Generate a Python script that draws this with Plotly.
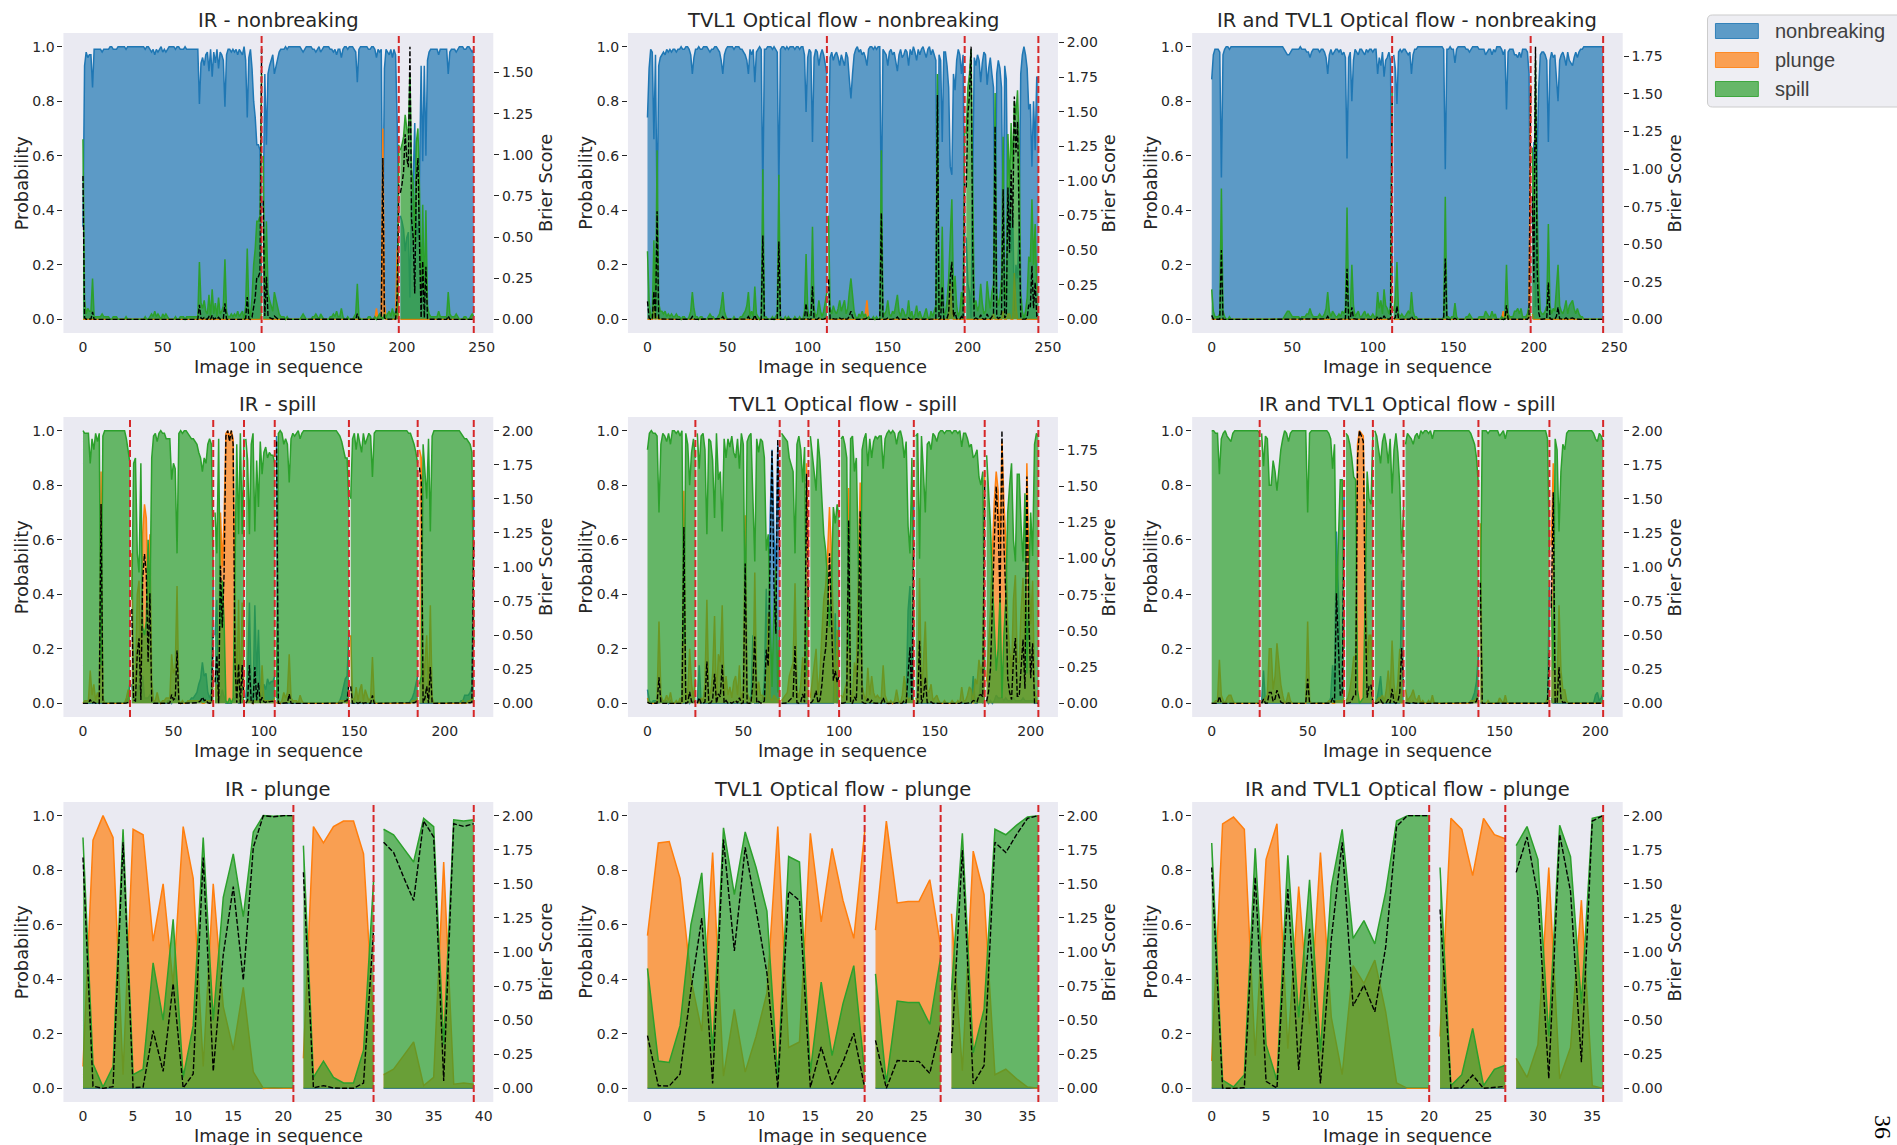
import plotly.graph_objects as go

W, H = 1897, 1145

# ================= DATA (class probabilities in percent) =================
# ---- Row 1: nonbreaking sequences ----
ir_nonbreaking_bounds = [112, 198, 245]
ir_nonbreaking_nb = [
    34, 93, 98, 96, 97, 97, 85, 99, 99, 99,
    99, 99, 98, 99, 99, 99, 99, 100, 100, 99,
    99, 99, 100, 100, 100, 100, 100, 99, 100, 100,
    100, 100, 100, 100, 100, 100, 100, 100, 100, 99,
    100, 100, 99, 98, 99, 97, 99, 98, 99, 100,
    98, 99, 98, 99, 100, 100, 100, 100, 99, 100,
    100, 99, 99, 99, 100, 99, 99, 99, 99, 99,
    99, 99, 99, 79, 94, 96, 93, 97, 98, 91,
    99, 89, 98, 94, 99, 92, 98, 97, 95, 78,
    97, 99, 99, 98, 99, 98, 99, 97, 99, 98,
    97, 100, 95, 74, 96, 99, 92, 80, 74, 64,
    64, 62, 8,
    40, 90, 64, 90, 93, 95, 97,
    90, 93, 96, 98, 99, 99, 99, 100, 99, 100,
    100, 100, 100, 100, 100, 100, 100, 99, 98, 99,
    100, 100, 100, 100, 99, 99, 98, 99, 100, 98,
    99, 100, 100, 100, 100, 99, 99, 98, 99, 97,
    99, 99, 96, 99, 100, 100, 99, 100, 100, 100,
    99, 98, 87, 99, 100, 100, 100, 100, 100, 99,
    99, 100, 100, 99, 96, 99, 98, 99, 30, 92,
    99, 98, 97, 99, 96, 99, 97, 72, 36,
    38, 36, 33, 25, 30, 32, 8, 45, 50, 72, 35,
    30, 52, 93, 58, 93, 60, 95, 98, 99, 99,
    99, 99, 99, 97, 99, 99, 99, 99, 99, 90,
    98, 99, 99, 99, 98, 99, 100, 100, 100, 99,
    99, 100, 100, 99, 98, 99,
]
ir_nonbreaking_sp = [
    66, 7, 2, 4, 3, 3, 15, 1, 1, 1,
    1, 1, 2, 1, 1, 1, 1, 0, 0, 1,
    1, 1, 0, 0, 0, 0, 0, 1, 0, 0,
    0, 0, 0, 0, 0, 0, 0, 0, 0, 1,
    0, 0, 1, 2, 1, 3, 1, 2, 1, 0,
    2, 1, 2, 1, 0, 0, 0, 0, 1, 0,
    0, 1, 1, 1, 0, 1, 1, 1, 1, 1,
    1, 1, 1, 21, 6, 4, 7, 3, 2, 9,
    1, 11, 2, 6, 1, 8, 2, 3, 5, 22,
    3, 1, 1, 2, 1, 2, 1, 3, 1, 2,
    3, 0, 5, 26, 4, 1, 8, 20, 26, 36,
    36, 38, 90,
    60, 10, 36, 10, 7, 5, 3,
    10, 7, 4, 2, 1, 1, 1, 0, 1, 0,
    0, 0, 0, 0, 0, 0, 0, 1, 2, 1,
    0, 0, 0, 0, 1, 1, 2, 1, 0, 2,
    1, 0, 0, 0, 0, 1, 1, 2, 1, 3,
    1, 1, 4, 1, 0, 0, 1, 0, 0, 0,
    1, 2, 13, 1, 0, 0, 0, 0, 0, 1,
    1, 0, 0, 1, 0, 1, 2, 1, 0, 2,
    1, 2, 3, 1, 4, 1, 3, 2, 64,
    62, 64, 67, 75, 70, 68, 90, 55, 50, 28, 65,
    70, 48, 7, 42, 7, 40, 5, 2, 1, 1,
    1, 1, 1, 3, 1, 1, 1, 1, 1, 10,
    2, 1, 1, 1, 2, 1, 0, 0, 0, 1,
    1, 0, 0, 1, 2, 1,
]
ir_nonbreaking_pl = [0] * 112 + [2] + [0] * 71 + [4, 0, 0, 0, 70, 6] + [0] * 7 + [26, 0] + [0] * 47

tvl1_nonbreaking_bounds = [112, 198, 244]
tvl1_nonbreaking_nb = [
    74, 92, 99, 98, 66, 97, 37, 93, 96, 97,
    98, 97, 99, 98, 99, 98, 99, 99, 98, 99,
    99, 100, 99, 99, 100, 100, 99, 97, 90, 96,
    99, 99, 100, 99, 99, 100, 100, 100, 99, 98,
    99, 99, 100, 100, 99, 98, 95, 90, 97, 99,
    100, 100, 100, 100, 99, 100, 100, 100, 99, 99,
    98, 97, 95, 90, 99, 97, 99, 87, 98, 99,
    100, 99, 45, 99, 99, 100, 100, 100, 99, 100,
    99, 98, 47, 99, 100, 100, 99, 100, 99, 100,
    100, 100, 99, 100, 100, 99, 100, 100, 97, 76,
    96, 99, 98, 65, 96, 99, 98, 93, 97, 99,
    97, 94, 90,
    62, 96, 98, 95, 97, 98, 96,
    93, 97, 95, 93, 98, 96, 88, 81, 90, 97,
    99, 100, 98, 99, 97, 98, 96, 93, 99, 100,
    100, 99, 100, 99, 100, 100, 38, 99, 98, 97,
    93, 98, 99, 97, 98, 95, 91, 97, 99, 96,
    97, 99, 98, 93, 99, 97, 100, 98, 95, 99,
    97, 99, 100, 98, 96, 99, 100, 97, 99, 97,
    95, 10, 97, 95, 65, 98, 98, 93, 85, 56,
    53, 90, 84, 95, 99, 97, 90, 97, 30,
    30, 13, 10, 0.5, 50, 96, 93, 97, 95, 87,
    94, 98, 97, 86, 92, 96, 90, 85, 16, 90,
    95, 92, 85, 30, 93, 88, 30, 50, 25, 40,
    3, 20, 15, 35, 90, 97, 100, 97, 92, 77,
    79, 56, 80, 62, 89, 88,
]
tvl1_nonbreaking_sp = [
    25, 7, 1, 2, 29, 3, 62, 6, 3, 3,
    2, 3, 1, 2, 1, 2, 1, 1, 2, 1,
    1, 0, 1, 1, 0, 0, 1, 3, 10, 4,
    1, 1, 0, 1, 1, 0, 0, 0, 1, 2,
    1, 1, 0, 0, 1, 2, 5, 10, 3, 1,
    0, 0, 0, 0, 1, 0, 0, 0, 1, 1,
    2, 3, 5, 10, 1, 3, 1, 12, 2, 1,
    0, 1, 55, 1, 1, 0, 0, 0, 1, 0,
    1, 2, 53, 1, 0, 0, 1, 0, 1, 0,
    0, 0, 1, 0, 0, 1, 0, 0, 3, 24,
    4, 1, 2, 34, 4, 1, 2, 7, 3, 1,
    3, 6, 10,
    38, 4, 2, 5, 3, 2, 4,
    7, 3, 5, 7, 2, 4, 10, 15, 9, 3,
    1, 0, 2, 1, 3, 1, 2, 0, 1, 0,
    0, 1, 0, 1, 0, 0, 62, 1, 2, 3,
    7, 2, 1, 3, 2, 5, 9, 3, 1, 4,
    3, 1, 2, 7, 1, 3, 0, 2, 5, 1,
    3, 1, 0, 2, 4, 1, 0, 3, 1, 3,
    5, 90, 3, 5, 34, 2, 2, 7, 15, 30,
    44, 10, 16, 5, 1, 3, 10, 3, 70,
    68, 85, 90, 99, 50, 4, 7, 3, 5, 13,
    6, 2, 3, 14, 8, 4, 10, 13, 83, 10,
    5, 8, 15, 67, 7, 12, 68, 48, 72, 55,
    80, 75, 84, 63, 10, 3, 0, 3, 8, 23,
    21, 44, 20, 35, 11, 12,
]
tvl1_nonbreaking_pl = ([0] * 4 + [5, 0, 1] + [0] * 129 + [2, 7] + [0] * 51 + [14, 3] + [0] * 25 + [2]
                       + [0] * 5 + [3, 0, 0, 2, 2, 0, 0, 17, 5] + [0] * 14)

both_nonbreaking_bounds = [112, 198, 243]
both_nonbreaking_nb = [
    88, 97, 99, 99, 99, 98, 52, 97, 99, 100,
    100, 99, 100, 100, 100, 100, 100, 100, 100, 100,
    100, 100, 100, 100, 100, 100, 100, 100, 100, 100,
    100, 100, 100, 100, 100, 100, 100, 100, 100, 100,
    100, 100, 100, 100, 100, 99, 98, 97, 97, 98,
    99, 99, 99, 99, 99, 100, 99, 99, 99, 98,
    98, 96, 98, 99, 99, 99, 99, 98, 99, 99,
    98, 96, 90, 97, 99, 97, 98, 99, 99, 98,
    99, 97, 98, 96, 59, 96, 98, 80, 95, 99,
    98, 97, 99, 99, 98, 97, 99, 98, 99, 99,
    98, 99, 99, 90, 96, 93, 98, 89, 95, 96,
    98, 95, 15,
    97, 92, 79, 98, 99, 98, 99,
    99, 98, 97, 98, 90, 97, 99, 99, 100, 100,
    100, 100, 100, 100, 100, 100, 100, 100, 100, 100,
    100, 100, 100, 100, 99, 55, 99, 99, 100, 99,
    99, 94, 99, 100, 100, 100, 100, 100, 99, 99,
    98, 99, 100, 100, 100, 100, 99, 99, 99, 99,
    97, 98, 99, 99, 97, 99, 98, 100, 100, 100,
    99, 97, 99, 77, 98, 99, 99, 99, 97, 97,
    96, 98, 96, 99, 99, 99, 98, 90, 10,
    35, 65, 4.5, 58, 85, 97, 98, 98, 97, 95,
    65, 95, 98, 96, 97, 90, 80, 95, 97, 98,
    96, 93, 98, 95, 94, 93, 96, 98, 96, 98,
    99, 99, 100, 100, 100, 100, 100, 100, 100, 100,
    100, 100, 100, 100, 100,
]
both_nonbreaking_sp = [
    11, 3, 1, 1, 1, 2, 48, 3, 1, 0,
    0, 1, 0, 0, 0, 0, 0, 0, 0, 0,
    0, 0, 0, 0, 0, 0, 0, 0, 0, 0,
    0, 0, 0, 0, 0, 0, 0, 0, 0, 0,
    0, 0, 0, 0, 0, 1, 2, 3, 3, 2,
    1, 1, 1, 1, 1, 0, 1, 1, 1, 2,
    2, 4, 2, 1, 1, 1, 1, 2, 1, 1,
    2, 4, 10, 3, 1, 3, 2, 1, 1, 2,
    1, 3, 2, 4, 41, 4, 2, 20, 5, 1,
    2, 3, 1, 1, 2, 3, 1, 2, 1, 1,
    2, 1, 1, 10, 4, 7, 2, 11, 5, 4,
    2, 5, 85,
    3, 8, 21, 2, 1, 2, 1,
    1, 2, 3, 2, 10, 3, 1, 1, 0, 0,
    0, 0, 0, 0, 0, 0, 0, 0, 0, 0,
    0, 0, 0, 0, 1, 45, 1, 1, 0, 1,
    1, 6, 1, 0, 0, 0, 0, 0, 1, 1,
    2, 1, 0, 0, 0, 0, 1, 1, 1, 1,
    3, 2, 1, 1, 3, 1, 2, 0, 0, 0,
    1, 0, 1, 20, 2, 1, 1, 1, 3, 3,
    4, 2, 4, 1, 1, 1, 2, 5, 4,
    63, 35, 95, 42, 15, 3, 2, 2, 3, 5,
    35, 5, 2, 4, 3, 10, 20, 5, 3, 2,
    4, 7, 2, 5, 6, 7, 4, 2, 4, 2,
    1, 1, 0, 0, 0, 0, 0, 0, 0, 0,
    0, 0, 0, 0, 0,
]
both_nonbreaking_pl = [0] * 181 + [3, 0, 3] + [0] * 13 + [5, 86, 2] + [0] * 44

# ---- Row 2: spill sequences ----
ir_spill_bounds = [26, 72, 89, 106, 147, 185, 216]
ir_spill_sp = (
    [100, 99, 99, 99, 88, 97, 93, 99, 96, 99, 14, 98, 100, 100, 100, 100, 100, 100, 100, 100,
     100, 100, 100, 100, 97, 93, 88]
    + [38, 88, 90, 55, 48, 88, 28, 25, 30, 60, 35, 90, 98, 99, 96, 99, 100, 99, 99, 97,
       97, 97, 82, 88, 86, 55, 99, 100, 99, 100, 100, 99, 98, 97, 97, 96, 95, 92, 90, 85,
       90, 88, 95, 97, 95, 45]
    + [70, 55, 97, 28, 45, 30, 1, 0, 2, 0, 2, 60, 95, 62, 99, 62, 97]
    + [97, 89, 62, 95, 99, 63, 89, 72, 96, 84, 92, 94, 90, 92, 91, 91, 88]
    + [2, 99, 100, 99, 95, 97, 95, 81, 97, 99, 98, 99, 100, 97, 99, 100, 100, 100, 100, 100,
       100, 100, 100, 100, 100, 100, 100, 100, 100, 100, 100, 100, 100, 100, 99, 98, 96, 93, 90, 90, 72]
    + [75, 97, 99, 93, 99, 95, 92, 99, 95, 97, 99, 98, 83, 99, 100, 100, 100, 100, 100, 100,
       100, 100, 100, 100, 100, 100, 100, 100, 100, 100, 100, 100, 99, 99, 97, 95, 92, 88]
    + [7, 10, 95, 86, 75, 97, 63, 98, 100, 100, 100, 100, 100, 100, 100, 100, 100, 100, 100, 100,
       100, 100, 100, 99, 98, 97, 97, 96, 95, 92, 22]
)
ir_spill_pl = (
    [0, 1, 1, 1, 12, 3, 7, 1, 4, 1, 85, 2, 0, 0, 0, 0, 0, 0, 0, 0, 0, 0, 0, 0, 2, 5, 4]
    + [55, 10, 8, 40, 45, 10, 62, 73, 68, 38, 62, 8, 1, 1, 4, 1, 0, 1, 1, 2,
       2, 2, 18, 11, 13, 43, 1, 0, 1, 0, 0, 1, 1, 1, 1, 1, 1, 1, 1, 0, 0, 1, 1, 1, 1, 10]
    + [5, 7, 1, 70, 50, 68, 99, 100, 98, 100, 97, 38, 4, 38, 1, 37, 2]
    + [1, 1, 1, 1, 0, 1, 1, 1, 1, 14, 1, 1, 1, 1, 1, 1, 2]
    + [0, 1, 0, 1, 4, 2, 4, 18, 2, 1, 1, 1, 0, 3, 1] + [0] * 20 + [1, 1, 1, 1, 0, 2]
    + [25, 2, 1, 6, 1, 5, 7, 1, 5, 3, 1, 2, 17, 1] + [0] * 18 + [0, 0, 1, 1, 1, 2]
    + [93, 90, 4, 13, 25, 2, 36, 2] + [0] * 15 + [0, 1, 0, 0, 1, 1, 2, 2]
)
ir_spill_nb = (
    [0] * 24 + [1, 2, 8]
    + [7, 2, 2, 5, 7, 2, 10, 2, 2, 2, 3, 2, 1] + [0] * 7 + [1, 1, 0, 1, 1, 2, 0, 0, 0, 0]
    + [0, 0, 1, 2, 2, 3, 4, 7, 9, 15, 10, 11, 4, 2, 4, 45]
    + [25, 38, 2, 2, 5, 2, 0, 0, 0, 0, 1, 2, 1, 0, 0, 1, 1]
    + [2, 10, 37, 4, 1, 36, 10, 27, 3, 2, 7, 5, 9, 7, 8, 8, 10]
    + [98] + [0] * 33 + [0, 1, 3, 6, 9, 10, 26]
    + [0] * 32 + [0, 1, 2, 4, 7, 10]
    + [0] * 23 + [1, 1, 3, 3, 3, 4, 6, 76]
)

tvl1_spill_bounds = [25, 69, 84, 100, 139, 176, 204]
tvl1_spill_sp = (
    [93, 99, 100, 99, 99, 98, 70, 95, 99, 98, 96, 99, 95, 100, 100, 99, 100, 98, 100, 22,
     99, 95, 80, 92, 97, 90]
    + [99, 86, 98, 99, 93, 62, 97, 96, 89, 68, 99, 82, 85, 63, 97, 90, 97, 94, 98, 92,
       90, 97, 86, 99, 95, 30, 96, 98, 99, 72, 52, 97, 92, 97, 96, 90, 56, 62, 30, 6,
       35, 50, 4, 30]
    + [99, 98, 97, 96, 90, 87, 85, 55, 95, 98, 93, 81, 94, 10, 45]
    + [98, 92, 86, 78, 97, 89, 75, 62, 56, 45, 28, 45, 72, 66, 73, 68]
    + [97, 98, 95, 90, 20, 97, 98, 85, 90, 55, 18, 93, 97, 99, 87, 97, 90, 96, 98, 97,
       98, 98, 86, 97, 99, 100, 99, 100, 99, 95, 99, 100, 97, 90, 96, 65, 55, 90, 25]
    + [98, 99, 53, 98, 85, 70, 95, 96, 93, 99, 98, 96, 99, 100, 100, 99, 100, 100, 100, 99,
       100, 100, 99, 100, 94, 99, 99, 97, 94, 95, 90, 91, 93, 83, 80, 85, 10]
    + [91, 80, 65, 45, 25, 12, 20, 40, 2, 25, 38, 70, 80, 88, 60, 52, 84, 84, 65, 52,
       77, 11, 45, 70, 54, 95, 99, 98]
)
tvl1_spill_pl = (
    [2, 0, 0, 0, 0, 1, 30, 3, 1, 1, 3, 1, 4, 0, 0, 1, 0, 2, 0, 78, 1, 4, 20, 7, 2, 9]
    + [1, 0, 2, 1, 7, 38, 3, 4, 11, 32, 1, 18, 15, 36, 3, 10, 3, 6, 2, 8,
       10, 3, 14, 1, 5, 69, 4, 2, 1, 3, 48, 3, 8, 3, 3, 2, 2, 33, 2, 1, 3, 2, 1, 2]
    + [1, 2, 3, 4, 10, 13, 15, 44, 5, 2, 7, 17, 6, 88, 55]
    + [2, 8, 13, 20, 3, 11, 25, 38, 43, 55, 72, 55, 28, 1, 27, 2]
    + [3, 2, 5, 8, 79, 3, 2, 15, 10, 44, 81, 7, 3, 1, 13, 3, 10, 4, 2, 3,
       2, 2, 14, 3, 1, 0, 1, 0, 1, 5, 1, 0, 3, 10, 4, 1, 2, 2, 1]
    + [2, 1, 46, 2, 15, 30, 5, 4, 7, 1, 2, 3, 1, 0, 0, 1, 0, 0, 0, 1,
       0, 0, 1, 0, 6, 1, 1, 3, 6, 5, 0, 9, 7, 16, 11, 15, 85]
    + [8, 20, 34, 55, 74, 85, 78, 58, 96, 74, 60, 29, 19, 11, 38, 47, 15, 15, 34, 46,
       22, 88, 54, 29, 45, 5, 1, 1]
)
tvl1_spill_nb = (
    [5, 1, 0, 1, 1, 1, 0, 2, 0, 1, 1, 0, 1, 0, 0, 0, 0, 0, 0, 0, 0, 1, 0, 1, 1, 1]
    + [0, 14] + [0] * 27 + [25] + [0, 0, 0, 1, 1, 8, 42, 5, 68, 93, 62, 48, 95, 68]
    + [0] * 15
    + [0] * 13 + [33, 0, 30]
    + [0] * 35 + [34, 43, 8, 74]
    + [0] * 30 + [10, 0, 0, 1, 9, 0, 5]
    + [1, 0, 1, 0, 1, 3, 2, 2, 2, 1, 2, 1, 1, 1, 2, 1, 1, 1, 1, 2, 1, 1, 1, 1, 1, 0, 0, 1]
)

both_spill_bounds = [25, 69, 84, 100, 139, 176, 204]
both_spill_sp = (
    [100, 100, 99, 99, 84, 97, 99, 100, 98, 97, 96, 99, 100, 100, 100, 100, 100, 100, 100, 100,
     100, 100, 100, 100, 100, 99]
    + [99, 87, 98, 97, 80, 80, 89, 85, 78, 85, 93, 97, 100, 99, 96, 99, 100, 100, 100, 100,
       100, 100, 100, 100, 70, 99, 100, 100, 100, 100, 100, 100, 100, 100, 100, 99, 97, 86, 95, 36,
       58, 82, 82, 20]
    + [99, 98, 95, 90, 83, 82, 5, 0, 1, 2, 40, 85, 75, 73, 99]
    + [100, 98, 93, 88, 96, 99, 95, 88, 97, 77, 93, 99, 92, 80, 55, 72]
    + [95, 99, 98, 97, 95, 98, 99, 97, 100, 99, 100, 100, 99, 100, 97, 100, 100, 100, 100, 100,
       100, 100, 100, 100, 100, 100, 100, 100, 100, 100, 100, 100, 100, 100, 99, 97, 95, 90, 80]
    + [33, 100, 100, 100, 99, 100, 100, 100, 100, 100, 98, 99, 100, 97, 100, 100, 100, 100, 100, 100,
       100, 100, 100, 100, 100, 100, 100, 100, 100, 100, 100, 100, 100, 100, 100, 97, 55]
    + [40, 12, 97, 93, 63, 85, 95, 93, 99, 100, 100, 100, 100, 100, 100, 100, 100, 100, 100, 100,
       100, 100, 99, 97, 96, 99, 98, 96]
)
both_spill_pl = (
    [0, 0, 1, 1, 16, 3, 1, 0, 2, 3, 3, 1] + [0] * 14
    + [1, 1, 2, 3, 20, 20, 5, 10, 22, 15, 7, 3, 0, 1, 4, 1, 0, 0, 0, 0,
       0, 0, 0, 0, 30, 1, 0, 0, 0, 0, 0, 0, 0, 0, 0, 1, 1, 0, 0, 1, 1, 1, 1, 2]
    + [1, 2, 5, 10, 17, 17, 95, 100, 99, 98, 58, 14, 25, 25, 1]
    + [0, 1, 2, 2, 3, 1, 5, 12, 3, 23, 7, 1, 8, 20, 0, 1]
    + [5, 1, 2, 3, 5, 2, 1, 3, 0, 1, 0, 0, 1, 0, 3] + [0] * 19 + [1, 1, 1, 2, 2]
    + [66, 0, 0, 0, 1, 0, 0, 0, 0, 0, 2, 1, 0, 3] + [0] * 21 + [2, 2]
    + [58, 88, 2, 6, 36, 12, 5, 5, 1] + [0] * 19
)
both_spill_nb = (
    [0] * 26
    + [0, 12] + [0] * 34 + [2, 14, 5, 63, 41, 17, 17, 78]
    + [0] * 15
    + [0, 1, 5, 10, 1, 0, 0, 0, 0, 0, 0, 0, 0, 0, 45, 27]
    + [0] * 35 + [2, 4, 8, 18]
    + [0] * 36 + [43]
    + [2] + [0] * 22 + [3, 4, 1, 2, 4]
)

# ---- Row 3: plunge sequences ----
ir_plunge_bounds = [21, 29, 39]
ir_plunge_pl = [8, 91, 100, 92, 5, 95, 93, 54, 75, 38, 96, 77, 8, 75, 30, 14, 37, 6, 0, 0.2, 0, 0,
                11, 96, 90, 96, 98, 98, 86, 24,
                5, 7, 12, 17, 1, 4, 83, 1.5, 2, 1.5]
ir_plunge_sp = [92, 9, 0.5, 8, 95, 5, 7, 46, 25, 62, 4, 23, 92, 25, 70, 86, 63, 94, 100, 99.8, 100, 100,
                89, 4, 10, 4, 2, 2, 14, 76,
                95, 93, 88, 83, 99, 96, 16, 98.5, 98, 98.5]
ir_plunge_nb = [0] * 40

tvl1_plunge_bounds = [20, 27, 36]
tvl1_plunge_pl = [56, 90, 90.5, 77, 40, 21, 86.5, 4.5, 29, 6, 19, 35, 96, 15, 17, 93.5, 61, 88, 69, 55, 94,
                  58, 98, 68, 68.5, 68.5, 76.5, 52,
                  64, 6.5, 87, 71, 5, 7, 3.5, 0.5, 0]
tvl1_plunge_sp = [44, 10, 9.5, 23, 60, 79, 13.5, 95.5, 71, 94, 81, 65, 4, 85, 83, 6, 39, 12, 31, 45, 6,
                  42, 2, 32, 31.5, 31.5, 23.5, 48,
                  36, 93.5, 13, 29, 95, 93, 96.5, 99.5, 100]
tvl1_plunge_nb = [0] * 37

both_plunge_bounds = [20, 27, 36]
both_plunge_pl = [10, 97, 99.5, 95, 12, 84, 97, 14.5, 74, 23.5, 86.5, 26, 5, 45, 38.5, 47, 28, 2, 0, 0, 0,
                  19, 99, 95, 78, 99, 93, 91.5,
                  11, 4, 16, 81, 3.5, 15, 69, 1, 0]
both_plunge_sp = [90, 3, 0.5, 5, 88, 16, 3, 85.5, 26, 76.5, 13.5, 74, 95, 55, 61.5, 53, 72, 98, 100, 100, 100,
                  81, 1, 5, 22, 1, 7, 8.5,
                  89, 96, 84, 19, 96.5, 85, 31, 99, 100]
both_plunge_nb = [0] * 37

class_names = ["nonbreaking", "plunge", "spill"]

# ================= FIGURE =================
panels = [
    ("IR - nonbreaking", ir_nonbreaking_nb, ir_nonbreaking_pl, ir_nonbreaking_sp, ir_nonbreaking_bounds, 0, 50),
    ("TVL1 Optical flow - nonbreaking", tvl1_nonbreaking_nb, tvl1_nonbreaking_pl, tvl1_nonbreaking_sp, tvl1_nonbreaking_bounds, 0, 50),
    ("IR and TVL1 Optical flow - nonbreaking", both_nonbreaking_nb, both_nonbreaking_pl, both_nonbreaking_sp, both_nonbreaking_bounds, 0, 50),
    ("IR - spill", ir_spill_nb, ir_spill_pl, ir_spill_sp, ir_spill_bounds, 2, 50),
    ("TVL1 Optical flow - spill", tvl1_spill_nb, tvl1_spill_pl, tvl1_spill_sp, tvl1_spill_bounds, 2, 50),
    ("IR and TVL1 Optical flow - spill", both_spill_nb, both_spill_pl, both_spill_sp, both_spill_bounds, 2, 50),
    ("IR - plunge", ir_plunge_nb, ir_plunge_pl, ir_plunge_sp, ir_plunge_bounds, 1, 5),
    ("TVL1 Optical flow - plunge", tvl1_plunge_nb, tvl1_plunge_pl, tvl1_plunge_sp, tvl1_plunge_bounds, 1, 5),
    ("IR and TVL1 Optical flow - plunge", both_plunge_nb, both_plunge_pl, both_plunge_sp, both_plunge_bounds, 1, 5),
]

COLORS = [(31, 119, 180), (255, 127, 14), (44, 160, 44)]
TEXT = "#262626"
RED = "#d62728"
col_px = [(63.6, 494.6), (629.6, 1060.7), (1195.3, 1627.0)]
row_px = [(33, 333), (417, 717), (802, 1102)]
ylab_x = [21.4, 586.4, 1152.7]
brier_lab_x = [546.4, 1111.4, 1678.8]
TICK_SIZE = 14
LABEL_SIZE = 17.8
TITLE_SIZE = 19.5


def X(px):
    return px / W


def Y(py):
    return 1 - py / H


def rgba(c, a):
    return "rgba(%d,%d,%d,%s)" % (c[0], c[1], c[2], a)


fig = go.Figure()
layout = dict(
    width=W, height=H, margin=dict(l=0, r=0, t=0, b=0),
    paper_bgcolor="white", plot_bgcolor="#EAEAF2", showlegend=False,
    font=dict(family="DejaVu Sans", color=TEXT, size=TICK_SIZE),
)
shapes = []
annotations = []

for i, (title, nb, pl, sp, bounds, true_idx, dtick) in enumerate(panels):
    n = i + 1
    r, c = divmod(i, 3)
    N = len(nb)
    assert len(pl) == N and len(sp) == N and bounds[-1] == N - 1, (title, N, len(pl), len(sp))
    probs = [[v / 100.0 for v in nb], [v / 100.0 for v in pl], [v / 100.0 for v in sp]]
    # multi-class Brier score of each image against its true class
    brier = []
    for j in range(N):
        brier.append(sum((probs[k][j] - (1.0 if k == true_idx else 0.0)) ** 2 for k in range(3)))

    xname = "x" if n == 1 else "x%d" % n
    yname = "y" if n == 1 else "y%d" % n
    y2name = "y%d" % (9 + n)
    (x0, x1), (y0, y1) = col_px[c], row_px[r]

    xmax = N - 1
    layout["xaxis" if n == 1 else "xaxis%d" % n] = dict(
        domain=[X(x0), X(x1)], anchor=yname, range=[-0.05 * xmax, 1.05 * xmax],
        tick0=0, dtick=dtick, showgrid=False, zeroline=False, showline=False, ticks="",
        tickfont=dict(size=TICK_SIZE, color=TEXT), ticklabelstandoff=4,
    )
    layout["yaxis" if n == 1 else "yaxis%d" % n] = dict(
        domain=[Y(y1), Y(y0)], anchor=xname, range=[-0.05, 1.05],
        tickvals=[0, 0.2, 0.4, 0.6, 0.8, 1.0], tickformat=".1f",
        showgrid=False, zeroline=False, showline=False,
        ticks="outside", ticklen=5, tickwidth=1, tickcolor=TEXT,
        tickfont=dict(size=TICK_SIZE, color=TEXT),
    )
    bmin, bmax = min(brier), max(brier)
    span = bmax - bmin
    layout["yaxis%d" % (9 + n)] = dict(
        overlaying=yname, side="right", anchor=xname,
        range=[bmin - 0.05 * span, bmax + 0.05 * span], tick0=0, dtick=0.25, tickformat=".2f",
        showgrid=False, zeroline=False, showline=False,
        ticks="outside", ticklen=5, tickwidth=1, tickcolor=TEXT,
        tickfont=dict(size=TICK_SIZE, color=TEXT),
    )

    starts = [0] + [b + 1 for b in bounds[:-1]]
    for s, e in zip(starts, bounds):
        xs = list(range(s, e + 1))
        for k in range(3):
            fig.add_trace(go.Scatter(
                x=xs, y=probs[k][s:e + 1], mode="lines", fill="tozeroy",
                fillcolor=rgba(COLORS[k], 0.7), line=dict(color=rgba(COLORS[k], 1), width=1.5),
                xaxis=xname, yaxis=yname, hoverinfo="skip", name=class_names[k],
            ))
    for s, e in zip(starts, bounds):
        xs = list(range(s, e + 1))
        fig.add_trace(go.Scatter(
            x=xs, y=brier[s:e + 1], mode="lines",
            line=dict(color="black", width=1.4, dash="5px,2px"),
            xaxis=xname, yaxis=y2name, hoverinfo="skip", name="Brier",
        ))
    for b in bounds:
        shapes.append(dict(
            type="line", xref=xname, yref=yname + " domain", x0=b, x1=b, y0=0, y1=1,
            line=dict(color=RED, width=2, dash="7px,3px"), layer="above",
        ))

    cx = X((x0 + x1) / 2)
    annotations.append(dict(text=title, x=cx, y=Y(y0 - 12.5), xref="paper", yref="paper",
                            xanchor="center", yanchor="middle", showarrow=False,
                            font=dict(size=TITLE_SIZE, color=TEXT)))
    annotations.append(dict(text="Image in sequence", x=cx, y=Y(y1 + 33), xref="paper", yref="paper",
                            xanchor="center", yanchor="middle", showarrow=False,
                            font=dict(size=LABEL_SIZE, color=TEXT)))
    annotations.append(dict(text="Probability", x=X(ylab_x[c]), y=Y((y0 + y1) / 2), xref="paper",
                            yref="paper", xanchor="center", yanchor="middle", showarrow=False,
                            textangle=-90, font=dict(size=LABEL_SIZE, color=TEXT)))
    annotations.append(dict(text="Brier Score", x=X(brier_lab_x[c]), y=Y((y0 + y1) / 2), xref="paper",
                            yref="paper", xanchor="center", yanchor="middle", showarrow=False,
                            textangle=-90, font=dict(size=LABEL_SIZE, color=TEXT)))

# ---- legend (drawn manually, matplotlib style) ----
lx0, lx1, ly0, ly1, rad = 1712, 1910, 15, 107, 5
path = ("M %f,%f L %f,%f L %f,%f L %f,%f Q %f,%f %f,%f L %f,%f Q %f,%f %f,%f Z" % (
    X(lx0 + rad), Y(ly0), X(lx1), Y(ly0), X(lx1), Y(ly1), X(lx0 + rad), Y(ly1),
    X(lx0), Y(ly1), X(lx0), Y(ly1 - rad), X(lx0), Y(ly0 + rad), X(lx0), Y(ly0), X(lx0 + rad), Y(ly0)))
shapes.append(dict(type="path", path=path, xref="paper", yref="paper",
                   fillcolor="#EEEEF3", line=dict(color="#CCCCCC", width=1), layer="above"))
for k, yc in enumerate([31, 60, 89]):
    shapes.append(dict(type="rect", xref="paper", yref="paper", x0=X(1720), x1=X(1763),
                       y0=Y(yc + 7.5), y1=Y(yc - 7.5), fillcolor=rgba(COLORS[k], 0.7),
                       line=dict(color=rgba(COLORS[k], 0.85), width=1), layer="above"))
    annotations.append(dict(text=class_names[k], x=X(1778), y=Y(yc), xref="paper", yref="paper",
                            xanchor="left", yanchor="middle", showarrow=False,
                            font=dict(family="Liberation Sans", size=20, color="#404040")))

# page number at the bottom-right edge
annotations.append(dict(text="36", x=X(1888), y=Y(1127), xref="paper", yref="paper",
                        xanchor="center", yanchor="middle", showarrow=False, textangle=90,
                        font=dict(family="Liberation Serif", size=24, color="black")))

layout["shapes"] = shapes
layout["annotations"] = annotations
fig.update_layout(**layout)
fig.write_html("out.html", config={"displayModeBar": False},
               post_script="document.body.style.margin='0';document.body.style.overflow='hidden';")
